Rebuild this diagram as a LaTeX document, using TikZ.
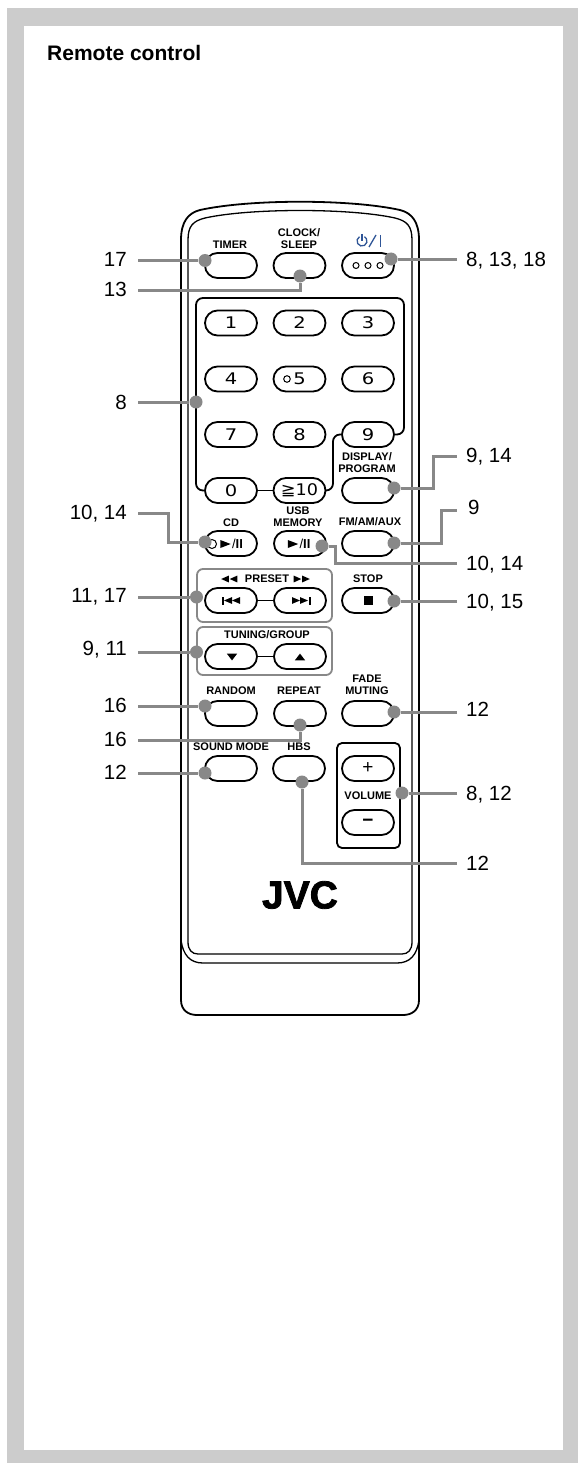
\documentclass[tikz,border=0pt]{standalone}
\usepackage{fontspec}
\setmainfont{Liberation Sans}
\newfontfamily\digitfont{DejaVu Sans}
\usetikzlibrary{positioning}
\definecolor{framegray}{HTML}{CCCCCC}
\definecolor{leadgray}{HTML}{888888}
\definecolor{powerblue}{HTML}{2F5597}
\newcommand{\widekey}[1]{\scalebox{1.22}[1]{#1}}

\begin{document}
\begin{tikzpicture}[
	x=1pt, y=-1pt,
	btn/.style={rectangle, draw=black, line width=1.8pt, rounded corners=12.5pt, minimum width=52pt, minimum height=25pt, inner sep=0pt, font=\digitfont\fontsize{16}{16}\selectfont},
	keytext/.style={inner sep=0pt, align=center, font=\bfseries\fontsize{11}{12}\selectfont},
	numl/.style={anchor=east, inner ysep=0pt, inner xsep=11pt, text height=14pt, text depth=0pt, font=\fontsize{20.5}{20.5}\selectfont},
	numr/.style={anchor=west, inner ysep=0pt, inner xsep=9pt, text height=14pt, text depth=0pt, font=\fontsize{20.5}{20.5}\selectfont},
	leaddot/.style={circle, fill=leadgray, inner sep=0pt, minimum size=13pt},
	leader/.style={draw=leadgray, line width=3pt},
	shell/.style={draw=black, line width=1.8pt},
	keyframe/.style={draw=black, line width=1.8pt, rounded corners=7pt},
	grayframe/.style={draw=leadgray, line width=1.8pt, rounded corners=6pt},
	tri/.pic={\fill (-4,-4) -- (4,0) -- (-4,4) -- cycle;}
	]

	\useasboundingbox (0,0) rectangle (578,1463);
	\fill[framegray] (7,8) rectangle (578,1463);
	\fill[white] (24,26) rectangle (563,1450);
	\node[anchor=base west, inner sep=0pt, font=\bfseries\fontsize{21}{21}\selectfont] (title) at (47,61) {Remote control};

	\draw[shell] (181,1000) -- (181,240) .. controls (181,222) and (188,213) .. (200,210) .. controls (250,199) and (350,199) .. (400,210) .. controls (412,213) and (419,222) .. (419,240) -- (419,1000) .. controls (419,1010) and (412,1015) .. (403,1015) -- (197,1015) .. controls (188,1015) and (181,1010) .. (181,1000) -- cycle;
	\draw[shell, line width=1.3pt] (188,240) .. controls (188,226) and (193,221) .. (205,218) .. controls (250,208) and (350,208) .. (395,218) .. controls (407,221) and (412,226) .. (412,240) -- (412,942) .. controls (412,950) and (408,954) .. (402,954) -- (198,954) .. controls (192,954) and (188,950) .. (188,942) -- cycle;
	\draw[shell, line width=1.3pt] (181,940) .. controls (183,955) and (190,963) .. (203,963) -- (397,963) .. controls (410,963) and (417,955) .. (419,940);

	\node[btn] (timer) at (231,265.5) {};
	\node[btn] (clock) at (299.5,265.5) {};
	\node[btn] (power) at (368,265.5) {};
	\node[btn] (k1) at (231,323) {\widekey{1}};
	\node[btn] (k2) at (299.5,323) {\widekey{2}};
	\node[btn] (k3) at (368,323) {\widekey{3}};
	\node[btn] (k4) at (231,379) {\widekey{4}};
	\node[btn] (k5) at (299.5,379) {\widekey{5}};
	\node[btn] (k6) at (368,379) {\widekey{6}};
	\node[btn] (k7) at (231,434.5) {\widekey{7}};
	\node[btn] (k8) at (299.5,434.5) {\widekey{8}};
	\node[btn] (k9) at (368,434.5) {\widekey{9}};
	\node[btn] (k0) at (231,490.5) {\widekey{0}};
	\node[btn] (k10) at (299.5,490.5) {\scalebox{1.1}[1]{≧10}};
	\node[btn] (display) at (368,490.5) {};
	\node[btn] (cd) at (231,543.5) {};
	\node[btn] (usb) at (300,543.5) {};
	\node[btn] (fm) at (368,543.5) {};
	\node[btn] (prev) at (231,600.5) {};
	\node[btn] (next) at (300,600.5) {};
	\node[btn] (stop) at (368,600.5) {};
	\node[btn] (down) at (231,656.5) {};
	\node[btn] (up) at (300,656.5) {};
	\node[btn] (random) at (231,713.5) {};
	\node[btn] (repeat) at (300,713.5) {};
	\node[btn] (fade) at (368,713.5) {};
	\node[btn] (sound) at (231,768.5) {};
	\node[btn] (hbs) at (299,768.5) {};
	\node[btn, font=\fontsize{19}{19}\selectfont] (plus) at (368,768.5) {+};
	\node[btn, font=\bfseries\fontsize{19}{19}\selectfont] (minus) at (368,822.5) {−};

	\draw[keyframe] (k0.west) -| (196,298) -- (404,298) |- (k9.east);
	\draw[keyframe] (k9.west) -| (333,490.5) -- (k10.east);
	\draw[keyframe, rounded corners=0pt] (k0) -- (k10);
	\draw[keyframe, rounded corners=0pt] (prev) -- (next);
	\draw[keyframe, rounded corners=0pt] (down) -- (up);
	\draw[grayframe] (197,569) rectangle (332,622);
	\draw[grayframe] (197,627) rectangle (332,675);
	\draw[keyframe, rounded corners=5pt] (337,743) rectangle (400,848);

	\node[keytext] (ltimer) at (230,245) {TIMER};
	\node[keytext] (lclock) at (299,238.5) {CLOCK/\\SLEEP};
	\node[keytext] (ldisplay) at (367,463) {DISPLAY/\\PROGRAM};
	\node[keytext] (lcd) at (231,523) {CD};
	\node[keytext] (lusb) at (298,517) {USB\\MEMORY};
	\node[keytext] (lfm) at (370,522) {FM/AM/AUX};
	\node[keytext] (lpreset) at (267,579) {PRESET};
	\node[keytext] (lstop) at (368,579) {STOP};
	\node[keytext] (ltuning) at (267,635) {TUNING/GROUP};
	\node[keytext] (lrandom) at (231,691) {RANDOM};
	\node[keytext] (lrepeat) at (299,691) {REPEAT};
	\node[keytext] (lfade) at (367,685) {FADE\\MUTING};
	\node[keytext] (lsound) at (231,747) {SOUND MODE};
	\node[keytext] (lhbs) at (299,747) {HBS};
	\node[keytext] (lvolume) at (368,796) {VOLUME};
	\node[inner sep=0pt, font=\bfseries\fontsize{39}{39}\selectfont\addfontfeature{FakeBold=2}] (jvc) at (300,895) {JVC};

	% power key marks
	\draw[powerblue, line width=1.3pt] (359.5,236.7) arc[start angle=120, end angle=420, radius=5pt];
	\draw[powerblue, line width=1.3pt] (362,234) -- (362,241);
	\draw[powerblue, line width=1.3pt] (369,247) -- (376,235);
	\draw[powerblue, line width=1.6pt] (380.5,235) -- (380.5,247);
	\foreach \px in {356,368,380}
		\draw[line width=1pt] (\px,265.5) circle[radius=3pt];
	\draw[line width=1pt] (287,379) circle[radius=3.3pt];

	% transport marks
	\draw[line width=1pt] (212,544) circle[radius=4.5pt];
	\pic[xscale=1.3] at (225.5,544) {tri};
	\node[inner sep=0pt, font=\fontsize{13}{13}\selectfont] (cdpause) at (237.5,544) {/\textbf{II}};
	\pic[xscale=1.3] at (293,544) {tri};
	\node[inner sep=0pt, font=\fontsize{13}{13}\selectfont] (usbpause) at (305,544) {/\textbf{II}};
	\fill (222,596.5) rectangle (223.5,604.5);
	\pic[rotate=180, yscale=.85] at (228,600.5) {tri};
	\pic[rotate=180, yscale=.85] at (236,600.5) {tri};
	\pic[yscale=.85] at (296,600.5) {tri};
	\pic[yscale=.85] at (304,600.5) {tri};
	\fill (309,596.5) rectangle (310.5,604.5);
	\pic[rotate=180, scale=.95, yscale=.9] at (225,579) {tri};
	\pic[rotate=180, scale=.95, yscale=.9] at (233.5,579) {tri};
	\pic[scale=.95, yscale=.9] at (297.5,579) {tri};
	\pic[scale=.95, yscale=.9] at (306,579) {tri};
	\fill (363.5,596) rectangle (372.5,605);
	\pic[rotate=-90, xscale=.85, yscale=1.3] at (232,657) {tri};
	\pic[rotate=90, xscale=.85, yscale=1.3] at (300,657) {tri};

	\node[leaddot] (d17) at (205,260.5) {};
	\node[leaddot] (d13) at (300,276) {};
	\node[leaddot] (d8a) at (196,402) {};
	\node[leaddot] (d1014a) at (205,542) {};
	\node[leaddot] (d1117) at (196.5,597) {};
	\node[leaddot] (d911) at (196.5,652) {};
	\node[leaddot] (d16a) at (205,706) {};
	\node[leaddot] (d16b) at (300,725) {};
	\node[leaddot] (d12a) at (205,773) {};
	\node[leaddot] (d81318) at (391,259) {};
	\node[leaddot] (d914) at (394,488) {};
	\node[leaddot] (d9) at (394,543) {};
	\node[leaddot] (d1014b) at (322,546) {};
	\node[leaddot] (d1015) at (394,601) {};
	\node[leaddot] (d12b) at (394,712) {};
	\node[leaddot] (d812) at (402,793) {};
	\node[leaddot] (d12c) at (302,782) {};

	\node[numl] (n17) at (138,259) {17};
	\node[numl] (n13) at (138,289) {13};
	\node[numl] (n8a) at (138,402) {8};
	\node[numl] (n1014a) at (138,512) {10, 14};
	\node[numl] (n1117) at (138,595) {11, 17};
	\node[numl] (n911) at (138,648) {9, 11};
	\node[numl] (n16a) at (138,705) {16};
	\node[numl] (n16b) at (138,739) {16};
	\node[numl] (n12a) at (138,772) {12};
	\node[numr] (n81318) at (457,259) {8, 13, 18};
	\node[numr] (n914) at (457,455) {9, 14};
	\node[numr, xshift=2pt] (n9) at (457,507) {9};
	\node[numr] (n1014b) at (457,563) {10, 14};
	\node[numr] (n1015) at (457,601) {10, 15};
	\node[numr] (n12b) at (457,709) {12};
	\node[numr] (n812) at (457,793) {8, 12};
	\node[numr] (n12c) at (457,863) {12};

	\draw[leader] (n17.east |- d17) -- (d17);
	\draw[leader] (n13.east) ++(0,1.5) -| (d13);
	\draw[leader] (n8a.east |- d8a) -- (d8a);
	\draw[leader] (n1014a.east) ++(0,1) -- ++(30,0) |- (d1014a);
	\draw[leader] (n1117.east |- d1117) -- (d1117);
	\draw[leader] (n911.east |- d911) -- (d911);
	\draw[leader] (n16a.east |- d16a) -- (d16a);
	\draw[leader] (n16b.east) ++(0,1) -| (d16b);
	\draw[leader] (n12a.east |- d12a) -- (d12a);
	\draw[leader] (n81318.west |- d81318) -- (d81318);
	\draw[leader] (d914) -- ++(39,0) |- (457,456);
	\draw[leader] (d9) -- ++(47,0) |- (457,510);
	\draw[leader] (d1014b) -- ++(13,0) |- (n1014b.west);
	\draw[leader] (n1015.west |- d1015) -- (d1015);
	\draw[leader] (n12b.west |- d12b) -- (d12b);
	\draw[leader] (n812.west |- d812) -- (d812);
	\draw[leader] (d12c) |- (n12c.west);

\end{tikzpicture}
\end{document}
